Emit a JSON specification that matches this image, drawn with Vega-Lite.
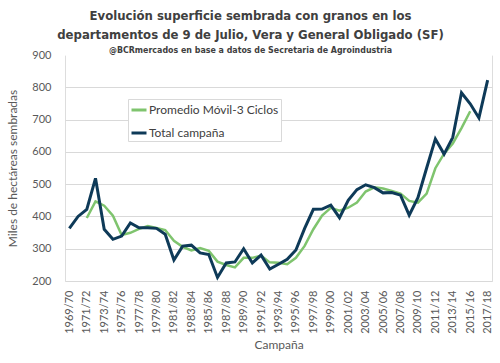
{
  "$schema": "https://vega.github.io/schema/vega-lite/v6.json",
  "width": 427,
  "height": 226,
  "autosize": {"type": "none"},
  "padding": {"left": 65, "top": 55, "right": 8, "bottom": 82},
  "background": "white",
  "title": {
    "text": ["Evolución superficie sembrada con granos en los", "departamentos de 9 de Julio, Vera y General Obligado (SF)"],
    "subtitle": "@BCRmercados en base a datos de Secretaria de Agroindustria",
    "font": "DejaVu Sans Condensed, Roboto",
    "fontSize": 13,
    "fontWeight": "bold",
    "color": "#404040",
    "lineHeight": 19,
    "subtitleFont": "DejaVu Sans Condensed, Roboto",
    "subtitleFontSize": 8.8,
    "subtitleFontWeight": "bold",
    "subtitleColor": "#404040",
    "subtitlePadding": 4,
    "anchor": "middle",
    "dx": -28,
    "offset": -6
  },
  "data": {
    "values": [
      {"campana": "1969/70", "total": 363, "promedio": null},
      {"campana": "1970/71", "total": 400, "promedio": null},
      {"campana": "1971/72", "total": 422, "promedio": 395},
      {"campana": "1972/73", "total": 518, "promedio": 446.7},
      {"campana": "1973/74", "total": 360, "promedio": 433.3},
      {"campana": "1974/75", "total": 329, "promedio": 402.3},
      {"campana": "1975/76", "total": 339, "promedio": 342.7},
      {"campana": "1976/77", "total": 380, "promedio": 349.3},
      {"campana": "1977/78", "total": 365, "promedio": 361.3},
      {"campana": "1978/79", "total": 365, "promedio": 370},
      {"campana": "1979/80", "total": 363, "promedio": 364.3},
      {"campana": "1980/81", "total": 345, "promedio": 357.7},
      {"campana": "1981/82", "total": 265, "promedio": 324.3},
      {"campana": "1982/83", "total": 308, "promedio": 306},
      {"campana": "1983/84", "total": 311, "promedio": 294.7},
      {"campana": "1984/85", "total": 287, "promedio": 302},
      {"campana": "1985/86", "total": 282, "promedio": 293.3},
      {"campana": "1986/87", "total": 211, "promedio": 260},
      {"campana": "1987/88", "total": 256, "promedio": 249.7},
      {"campana": "1988/89", "total": 259, "promedio": 242},
      {"campana": "1989/90", "total": 300, "promedio": 271.7},
      {"campana": "1990/91", "total": 256, "promedio": 271.7},
      {"campana": "1991/92", "total": 280, "promedio": 278.7},
      {"campana": "1992/93", "total": 237, "promedio": 257.7},
      {"campana": "1993/94", "total": 252, "promedio": 256.3},
      {"campana": "1994/95", "total": 267, "promedio": 252},
      {"campana": "1995/96", "total": 296, "promedio": 271.7},
      {"campana": "1996/97", "total": 363, "promedio": 308.7},
      {"campana": "1997/98", "total": 422, "promedio": 360.3},
      {"campana": "1998/99", "total": 423, "promedio": 402.7},
      {"campana": "1999/00", "total": 435, "promedio": 426.7},
      {"campana": "2000/01", "total": 396, "promedio": 418},
      {"campana": "2001/02", "total": 450, "promedio": 427},
      {"campana": "2002/03", "total": 483, "promedio": 443},
      {"campana": "2003/04", "total": 498, "promedio": 477},
      {"campana": "2004/05", "total": 489, "promedio": 490},
      {"campana": "2005/06", "total": 473, "promedio": 486.7},
      {"campana": "2006/07", "total": 474, "promedio": 478.7},
      {"campana": "2007/08", "total": 466, "promedio": 471},
      {"campana": "2008/09", "total": 404, "promedio": 448},
      {"campana": "2009/10", "total": 458, "promedio": 442.7},
      {"campana": "2010/11", "total": 550, "promedio": 470.7},
      {"campana": "2011/12", "total": 640, "promedio": 549.3},
      {"campana": "2012/13", "total": 593, "promedio": 594.3},
      {"campana": "2013/14", "total": 645, "promedio": 626},
      {"campana": "2014/15", "total": 783, "promedio": 673.7},
      {"campana": "2015/16", "total": 749, "promedio": 725.7},
      {"campana": "2016/17", "total": 705, "promedio": null},
      {"campana": "2017/18", "total": 822, "promedio": null}
    ]
  },
  "config": {
    "axisY": {
      "values": [200, 300, 400, 500, 600, 700, 800, 900],
      "labelOverlap": false,
      "domain": false,
      "ticks": false,
      "labelPadding": 14,
      "labelFont": "Lato",
      "labelFontSize": 11,
      "labelColor": "#595959",
      "gridColor": "#D9D9D9",
      "gridWidth": 1,
      "titleFont": "Lato",
      "titleFontSize": 12,
      "titleFontWeight": "normal",
      "titleColor": "#595959",
      "titlePadding": 12
    }
  },
  "encoding": {
    "x": {
      "field": "campana",
      "type": "ordinal",
      "sort": null,
      "scale": {"type": "point", "padding": 0.5},
      "title": "Campaña",
      "axis": {
        "values": ["1969/70","1971/72","1973/74","1975/76","1977/78","1979/80","1981/82","1983/84","1985/86","1987/88","1989/90","1991/92","1993/94","1995/96","1997/98","1999/00","2001/02","2003/04","2005/06","2007/08","2009/10","2011/12","2013/14","2015/16","2017/18"],
        "labelAngle": 270,
        "labelPadding": 9,
        "domain": false,
        "ticks": false,
        "grid": false,
        "labelFont": "Lato",
        "labelFontSize": 11,
        "labelColor": "#595959",
        "titleFont": "Lato",
        "titleFontSize": 12,
        "titleFontWeight": "normal",
        "titleColor": "#595959",
        "titlePadding": 6
      }
    }
  },
  "layer": [
    {
      "mark": {"type": "line", "strokeWidth": 2.5},
      "encoding": {
        "y": {
          "field": "promedio",
          "type": "quantitative",
          "scale": {"domain": [200, 900], "nice": false, "zero": false},
          "title": "Miles de hectáreas sembradas",
          "axis": {
            "values": [200, 300, 400, 500, 600, 700, 800, 900],
            "labelOverlap": false,
            "gridColor": {"condition": {"test": "datum.value === 900", "value": "white"}, "value": "#D9D9D9"}
          }
        },
        "color": {
          "datum": "Promedio Móvil-3 Ciclos",
          "type": "nominal",
          "scale": {"domain": ["Promedio Móvil-3 Ciclos", "Total campaña"], "range": ["#7FC46E", "#0E3A58"]},
          "legend": {
            "title": null,
            "orient": "none",
            "legendX": 63,
            "legendY": 44,
            "symbolType": "stroke",
            "symbolSize": 225,
            "symbolStrokeWidth": 3,
            "labelFont": "Lato",
            "labelFontSize": 12,
            "labelColor": "#404040",
            "labelOffset": 1,
            "rowPadding": 8,
            "padding": 2,
            "strokeColor": "#D9D9D9",
            "fillColor": "white"
          }
        }
      }
    },
    {
      "mark": {"type": "line", "strokeWidth": 3},
      "encoding": {
        "y": {
          "field": "total",
          "type": "quantitative",
          "title": "Miles de hectáreas sembradas",
          "axis": {
            "values": [200, 300, 400, 500, 600, 700, 800, 900],
            "labelOverlap": false,
            "gridColor": {"condition": {"test": "datum.value === 900", "value": "white"}, "value": "#D9D9D9"}
          }
        },
        "color": {"datum": "Total campaña", "type": "nominal"}
      }
    }
  ]
}
